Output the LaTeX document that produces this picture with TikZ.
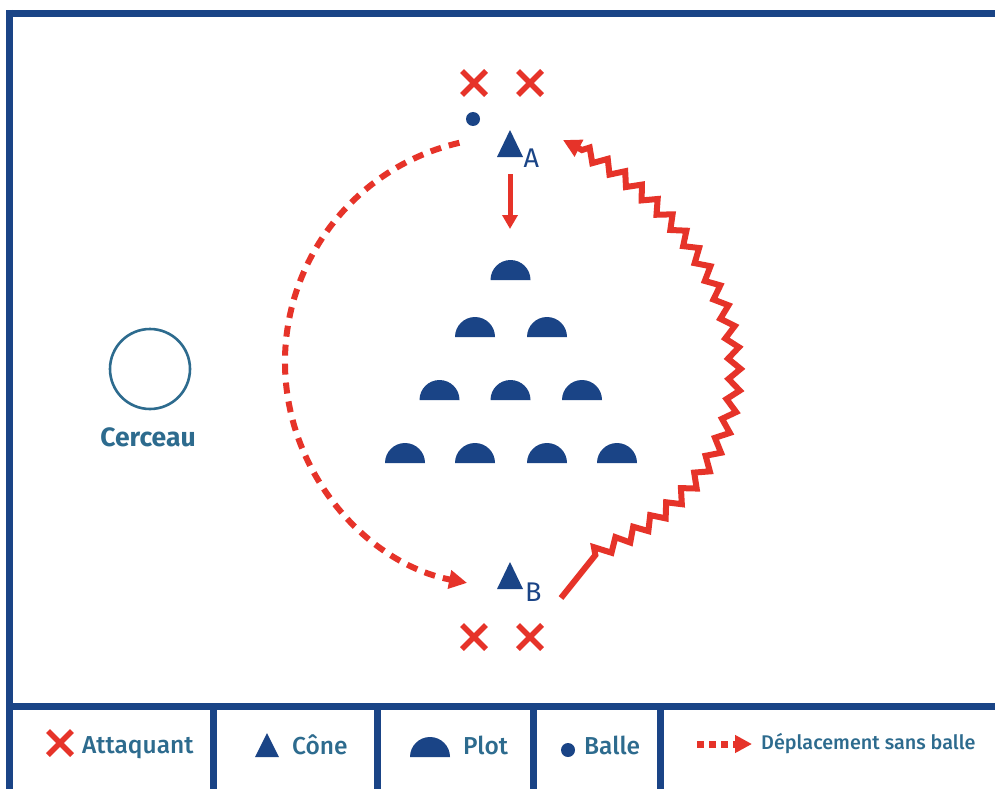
\documentclass[tikz,border=0pt]{standalone}
\usepackage{fontspec}
\setmainfont{Fira Sans}
\newfontfamily\medf{Fira Sans}[UprightFont={* Medium}]
\usetikzlibrary{arrows.meta,decorations.pathmorphing}
\definecolor{fblue}{HTML}{1A4486}
\definecolor{fred}{HTML}{E63329}
\definecolor{fteal}{HTML}{2D6B8E}
\begin{document}
\begin{tikzpicture}[x=1pt,y=1pt,
  frame/.style={draw=fblue,line width=7pt},
  xmark/.pic={\draw[fred,line width=5.5pt] (-12,-12)--(12,12) (-12,12)--(12,-12);},
  cone/.pic={\fill[fblue] (-13,0)--(0,27)--(13,0)--cycle;},
  smallcone/.pic={\fill[fblue] (-12,0)--(0,24)--(12,0)--cycle;},
  plotp/.pic={\fill[fblue] (-20,0) arc[start angle=180,end angle=0,radius=20]--cycle;},
  ball/.pic={\fill[fblue] (0,0) circle[radius=7];},
  lbl/.style={text=fteal,font=\medf\fontsize{24.5}{24.5}\selectfont,anchor=base west,inner sep=0pt},
  smalllbl/.style={text=fteal,font=\medf\fontsize{19.8}{19.8}\selectfont,anchor=base west,inner sep=0pt},
  conelbl/.style={text=fblue,font=\fontsize{27}{27}\selectfont,anchor=base west,inner sep=0pt},
  runline/.style={draw=fred,line width=6pt,dash pattern=on 11pt off 8pt,-{Triangle[length=18pt,width=18pt]}},
  ballline/.style={draw=fred,line width=6pt,line join=miter,
     decorate,decoration={zigzag,segment length=21pt,amplitude=6pt,pre length=55pt,post length=14pt},
     -{Triangle[length=18pt,width=18pt]}},
  passline/.style={draw=fred,line width=5pt,-{Triangle[length=14pt,width=15pt]}}
]
\useasboundingbox (0,0) rectangle (995,-789);
\fill[white] (0,0) rectangle (995,-789);

% frame
\draw[frame] (6,-13.5) -- (995,-13.5);
\draw[frame] (9.5,-10) -- (9.5,-789);
\draw[frame] (6,-706) -- (995,-706);
\foreach \xx in {213,377,533,660} \draw[frame] (\xx,-706) -- (\xx,-789);

% attackers
\pic (xa) at (474,-83) {xmark};
\pic (xb) at (530,-83) {xmark};
\pic (xc) at (474,-637) {xmark};
\pic (xd) at (530,-637) {xmark};

% ball
\pic (ba) at (473,-119) {ball};

% cones
\pic (ca) at (510,-157) {cone};
\node[conelbl] (la) at (523.5,-167) {A};
\pic (cb) at (510,-589) {cone};
\node[conelbl] (lb) at (525,-601) {B};

% plots
\pic (p1) at (510.5,-280) {plotp};
\pic (p2) at (475,-337) {plotp};
\pic (p3) at (547,-337) {plotp};
\pic (p4) at (439.5,-400) {plotp};
\pic (p5) at (510.5,-400) {plotp};
\pic (p6) at (582,-400) {plotp};
\pic (p7) at (405,-463) {plotp};
\pic (p8) at (475,-463) {plotp};
\pic (p9) at (547,-463) {plotp};
\pic (p10) at (617,-463) {plotp};

% hoop
\node[circle,draw=fteal,line width=2.6pt,minimum size=80pt,inner sep=0pt] (hoop) at (150,-369) {};
\node[text=fteal,font=\bfseries\fontsize{26.5}{26.5}\selectfont,anchor=base,inner sep=0pt] (hooplbl) at (148,-446) {Cerceau};

% pass arrow
\coordinate (pa) at (510,-174);
\coordinate (pb) at (510,-229);
\draw[passline] (pa) -- (pb);

% run without ball (dashed arc)
\coordinate (ds) at (459.4,-142.8);
\draw[runline] (ds) arc[start angle=103,end angle=259,radius=225];

% run with ball (zigzag)
\coordinate (zs) at (561,-598);
\coordinate (zc) at (597,-553);
\coordinate (ze) at (563,-140);
\draw[ballline] (zs) -- (zc) .. controls (820,-450) and (745,-230) .. (ze);

% legend
\pic (lx) at (60,-743) {xmark};
\node[lbl] (lt1) at (82,-753) {Attaquant};
\pic (lc) at (267,-757) {smallcone};
\node[lbl] (lt2) at (292,-754) {Cône};
\pic (lp) at (430,-757) {plotp};
\node[lbl] (lt3) at (463,-754) {Plot};
\pic (lbp) at (568,-750) {ball};
\node[lbl] (lt4) at (584,-754) {Balle};
\coordinate (ra) at (697,-744);
\coordinate (rb) at (752,-744);
\draw[draw=fred,line width=7pt,dash pattern=on 7pt off 5pt,-{Triangle[length=17pt,width=17pt]}] (ra) -- (rb);
\node[smalllbl] (lt5) at (761,-749) {Déplacement sans balle};
\end{tikzpicture}
\end{document}
